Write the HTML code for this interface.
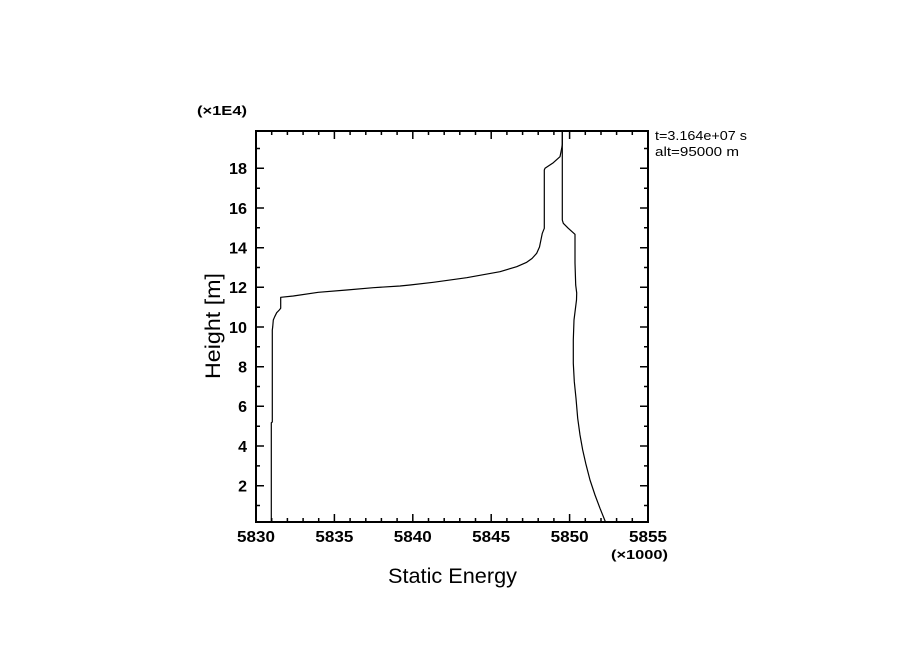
<!DOCTYPE html>
<html>
<head>
<meta charset="utf-8">
<style>
html,body{margin:0;padding:0;background:#fff;}
svg{display:block;}
text{font-family:"Liberation Sans",sans-serif;fill:#000;}
.b{font-weight:bold;}
</style>
</head>
<body>
<svg width="904" height="654" viewBox="0 0 904 654" xmlns="http://www.w3.org/2000/svg">
<rect x="0" y="0" width="904" height="654" fill="#fff"/>

<g stroke="#000" stroke-width="1.5" fill="none">
<path d="
M334.4 522 v-8 M412.8 522 v-8 M491.2 522 v-8 M569.6 522 v-8
M334.4 131 v8 M412.8 131 v8 M491.2 131 v8 M569.6 131 v8
"/>
<path d="
M271.7 522v-4 M287.4 522v-4 M303.1 522v-4 M318.7 522v-4
M350.1 522v-4 M365.8 522v-4 M381.4 522v-4 M397.1 522v-4
M428.5 522v-4 M444.2 522v-4 M459.8 522v-4 M475.5 522v-4
M506.9 522v-4 M522.6 522v-4 M538.2 522v-4 M553.9 522v-4
M585.3 522v-4 M601.0 522v-4 M616.6 522v-4 M632.3 522v-4
M271.7 131v4 M287.4 131v4 M303.1 131v4 M318.7 131v4
M350.1 131v4 M365.8 131v4 M381.4 131v4 M397.1 131v4
M428.5 131v4 M444.2 131v4 M459.8 131v4 M475.5 131v4
M506.9 131v4 M522.6 131v4 M538.2 131v4 M553.9 131v4
M585.3 131v4 M601.0 131v4 M616.6 131v4 M632.3 131v4
"/>
<path d="
M256 485.7h8 M256 446.0h8 M256 406.3h8 M256 366.7h8 M256 327.0h8
M256 287.3h8 M256 247.7h8 M256 208.0h8 M256 168.3h8
M648 485.7h-8 M648 446.0h-8 M648 406.3h-8 M648 366.7h-8 M648 327.0h-8
M648 287.3h-8 M648 247.7h-8 M648 208.0h-8 M648 168.3h-8
"/>
<path d="
M256 505.5h4 M256 465.9h4 M256 426.2h4 M256 386.5h4 M256 346.8h4
M256 307.2h4 M256 267.5h4 M256 227.8h4 M256 188.2h4 M256 148.5h4
M648 505.5h-4 M648 465.9h-4 M648 426.2h-4 M648 386.5h-4 M648 346.8h-4
M648 307.2h-4 M648 267.5h-4 M648 227.8h-4 M648 188.2h-4 M648 148.5h-4
"/>
</g>

<rect x="256" y="131" width="392" height="391" fill="none" stroke="#000" stroke-width="2"/>

<g fill="none" stroke="#000" stroke-width="1.2" stroke-linejoin="round">
<polyline points="271.3,522 271.3,422.7 272.3,422 272.3,330 272.7,327 273.3,320 274.7,316.7 276.7,312.7 279.3,310 280.7,308.3 280.7,297.3 293.3,296 318.3,292.3 346.7,290 373.3,287.7 400,286 410,285 433.3,282.3 466.7,277.7 500,271.7 516.7,266.7 526.7,262.3 532,258.5 536.7,253.3 539.5,247 542.3,233.3 544.3,228.3 544.3,170 545,168.3 553.3,162.7 560,156.7 561.7,148.3 562.3,144 562.3,131"/>
<polyline points="562.3,131 562.3,220 563.3,223.3 568.3,228.3 575,234.3 575,263 575.7,285 576.7,293 576.5,300 574,320 573.3,340 573.3,363.3 574.3,381.7 576,398.3 577.7,418.3 580,435 582.7,450 585.7,463.3 590,480 595,495 600,508.3 605.5,522"/>
</g>

<text class="b" x="197" y="115" font-size="13" textLength="50" lengthAdjust="spacingAndGlyphs">(×1E4)</text>

<g font-size="16" text-anchor="end">
<text class="b" x="247" y="491.5">2</text>
<text class="b" x="247" y="451.8">4</text>
<text class="b" x="247" y="412.1">6</text>
<text class="b" x="247" y="372.5">8</text>
<text class="b" x="247" y="332.8" textLength="18" lengthAdjust="spacingAndGlyphs">10</text>
<text class="b" x="247" y="293.1" textLength="18" lengthAdjust="spacingAndGlyphs">12</text>
<text class="b" x="247" y="253.5" textLength="18" lengthAdjust="spacingAndGlyphs">14</text>
<text class="b" x="247" y="213.8" textLength="18" lengthAdjust="spacingAndGlyphs">16</text>
<text class="b" x="247" y="174.1" textLength="18" lengthAdjust="spacingAndGlyphs">18</text>
</g>

<g font-size="16" text-anchor="middle">
<text class="b" x="256" y="542" textLength="38" lengthAdjust="spacingAndGlyphs">5830</text>
<text class="b" x="334.4" y="542" textLength="38" lengthAdjust="spacingAndGlyphs">5835</text>
<text class="b" x="412.8" y="542" textLength="38" lengthAdjust="spacingAndGlyphs">5840</text>
<text class="b" x="491.2" y="542" textLength="38" lengthAdjust="spacingAndGlyphs">5845</text>
<text class="b" x="569.6" y="542" textLength="38" lengthAdjust="spacingAndGlyphs">5850</text>
<text class="b" x="648" y="542" textLength="38" lengthAdjust="spacingAndGlyphs">5855</text>
</g>

<text class="b" x="611" y="559" font-size="13" textLength="57" lengthAdjust="spacingAndGlyphs">(×1000)</text>

<text x="388" y="583" font-size="21" textLength="129" lengthAdjust="spacingAndGlyphs">Static Energy</text>

<text x="0" y="0" font-size="21" textLength="106" lengthAdjust="spacingAndGlyphs" text-anchor="middle" transform="translate(220,326) rotate(-90)">Height [m]</text>

<text x="655" y="140" font-size="12.5" textLength="92" lengthAdjust="spacingAndGlyphs">t=3.164e+07 s</text>
<text x="655" y="156" font-size="12.5" textLength="84" lengthAdjust="spacingAndGlyphs">alt=95000 m</text>
</svg>
</body>
</html>
